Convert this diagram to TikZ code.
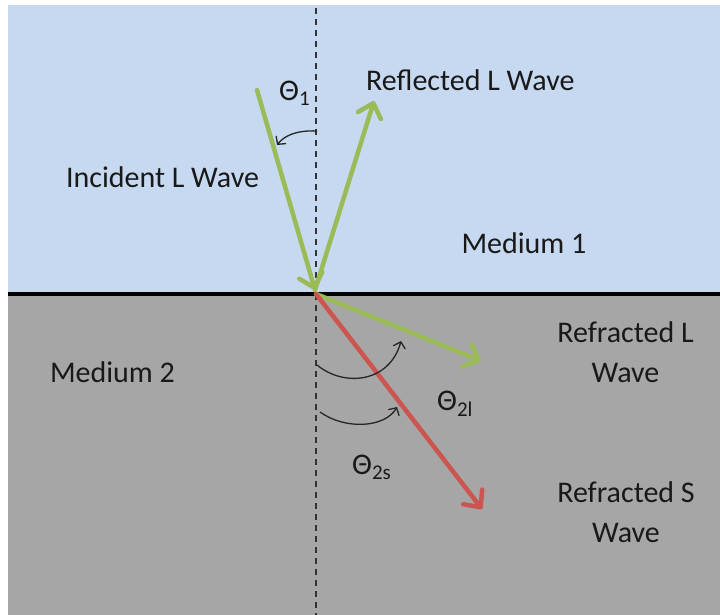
\documentclass[tikz,border=0pt]{standalone}
\usepackage{fontspec}
\setmainfont{Carlito}
\usetikzlibrary{arrows.meta}
\definecolor{topblue}{HTML}{C6D9F1}
\definecolor{botgray}{HTML}{A6A6A6}
\definecolor{wavegreen}{HTML}{9BBB59}
\definecolor{wavered}{HTML}{CC5550}
\definecolor{dashgray}{HTML}{333333}
\begin{document}
\begin{tikzpicture}[x=1pt,y=-1pt,
  lbl/.style={inner sep=0pt,font=\fontsize{30}{40}\selectfont,text=black!90},
  wave/.style={line width=4.5pt,line cap=round,line join=round,
    -{Straight Barb[length=13pt,width=24pt,line cap=round,line join=round]}},
  anglearc/.style={line width=1.3pt,draw=black!85,
    -{Straight Barb[length=5.5pt,width=12pt,line cap=round]}}]
\useasboundingbox (0,0) rectangle (720,615);
% media
\fill[topblue] (8,5) rectangle (720,293.5);
\fill[botgray] (8,293.5) rectangle (720,615);
% normal
\coordinate (ntop) at (316,8);
\coordinate (nbot) at (316,615);
\draw[dashgray,line width=1.5pt,dash pattern=on 6pt off 5pt] (ntop) -- (nbot);
% boundary
\coordinate (bl) at (8,293.5);
\coordinate (br) at (720,293.5);
\draw[black,line width=4pt] (bl) -- (br);
% wave points
\coordinate (O) at (315,290);
\coordinate (O2) at (316,294);
\coordinate (inc) at (257,90);
\coordinate (refl) at (374,101);
\coordinate (rfl) at (481,361);
\coordinate (rfs) at (482,509);
\draw[wave,wavegreen] (inc) -- (O);
\draw[wave,wavegreen] (O) -- (refl);
\draw[wave,wavegreen] (O2) -- (rfl);
\draw[wave,wavered] (O2) -- (rfs);
% angle arcs
\coordinate (a1s) at (317,131);
\coordinate (a1e) at (277,145);
\draw[anglearc] (a1s) .. controls (296,130) and (284,136) .. (a1e);
\coordinate (a2s) at (317,365);
\coordinate (a2e) at (401,341);
\draw[anglearc] (a2s) .. controls (345,388) and (390,382) .. (a2e);
\coordinate (a3s) at (320,412);
\coordinate (a3e) at (397,407);
\draw[anglearc] (a3s) .. controls (345,430) and (385,428) .. (a3e);
% labels
\node[lbl,anchor=base west] (t1) at (279,101) {Θ\textsubscript{1}};
\node[lbl,anchor=base west] (t2l) at (437,410) {Θ\textsubscript{2l}};
\node[lbl,anchor=base west] (t2s) at (352,474) {Θ\textsubscript{2s}};
\node[lbl,anchor=base west] (lrefl) at (366,91) {Reflected L Wave};
\node[lbl,anchor=base] (linc) at (162.5,187) {Incident L Wave};
\node[lbl,anchor=base] (lm1) at (524,253) {Medium 1};
\node[lbl,anchor=base] (lm2) at (112.5,382) {Medium 2};
\node[lbl,align=center] (lrl) at (625.5,352) {Refracted L\\Wave};
\node[lbl,align=center] (lrs) at (626,512) {Refracted S\\Wave};
\end{tikzpicture}
\end{document}
